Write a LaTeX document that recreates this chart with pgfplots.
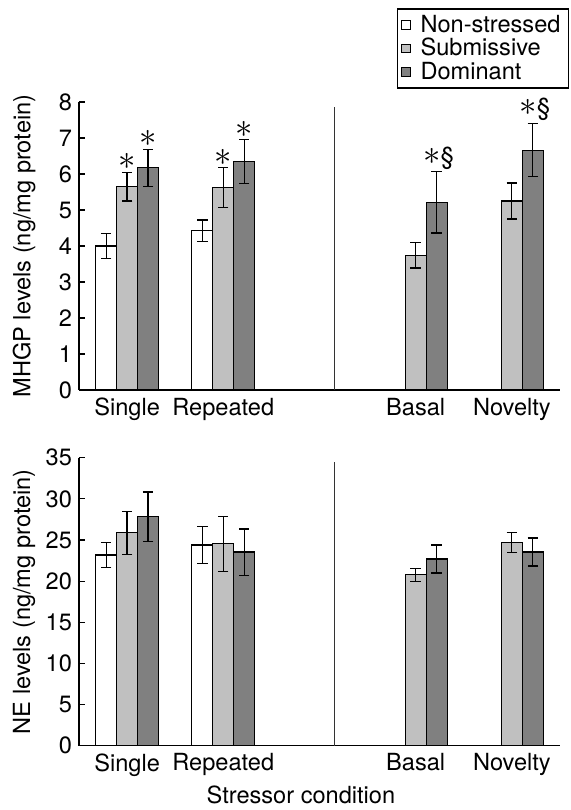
\documentclass[border=0pt]{standalone}
\usepackage{pgfplots}
\pgfplotsset{compat=1.18}
\usepackage{fontspec}
\setmainfont{TeX Gyre Heros}
\definecolor{lightbar}{HTML}{C0C0C0}
\definecolor{darkbar}{HTML}{808080}
\tikzset{
  sigstar/.style={anchor=south, inner sep=0pt, yshift=1.2pt, font=\fontsize{16}{16}\selectfont},
  sigstarS/.style={anchor=south, inner sep=0pt, yshift=1.5pt, font=\fontsize{12}{12}\selectfont},
}
\begin{document}
\begin{tikzpicture}
\useasboundingbox (-39.5pt,-32.15pt) rectangle (245.5pt,372.85pt);
\pgfplotsset{
  base/.style={
    scale only axis, width=240.5pt, height=144pt,
    xmin=-0.5, xmax=4.5, ymin=0,
    axis x line=bottom, axis y line=left,
    axis line style={-, line width=0.6pt},
    xtick={0,1,3,4}, xticklabels={Single,Repeated,Basal,Novelty},
    x tick style={draw=none},
    y tick style={line width=0.6pt, black},
    tick align=inside, major tick length=3pt,
    tick label style={font=\fontsize{11.8}{13}\selectfont},
    label style={font=\fontsize{11.8}{13}\selectfont},
    /pgf/number format/assume math mode=true,
    xticklabel style={yshift=-0.5pt},
    ylabel style={at={(axis description cs:-0.114,0.5)}, anchor=center},
    clip=false,
  },
  bars/.style={ybar, bar width=0.218, bar shift=0, draw=black, line width=0.6pt,
    legend image code/.code={\draw[##1, line width=0.5pt] (0pt,-2.2pt) rectangle (4.4pt,2.2pt); \path (7pt,0pt);},
    error bars/y dir=both, error bars/y explicit,
    error bars/error bar style={line width=0.6pt, black},
    error bars/error mark options={rotate=90, mark size=2.6pt, line width=0.6pt, black}},
}
% Top panel: MHGP
\begin{axis}[base, at={(0pt,177.85pt)}, anchor=south west,
  ymax=8, ytick={0,1,...,8},
  ylabel={MHGP levels (ng/mg protein)},
  legend style={at={(1.019,1.325)}, anchor=north east, draw=black, line width=0.6pt,
    font=\fontsize{11.8}{13}\selectfont, inner xsep=2pt, inner ysep=1pt, row sep=-2.5pt},
  legend cell align=left,
]
\addplot[bars, fill=white] coordinates {
  (-0.218,4.00) +- (0,0.35)
  (0.782,4.42) +- (0,0.30)
};
\addlegendentry{Non-stressed}
\addplot[bars, fill=lightbar] coordinates {
  (0,5.65) +- (0,0.40)
  (1,5.62) +- (0,0.55)
  (3,3.74) +- (0,0.35)
  (4,5.25) +- (0,0.50)
};
\addlegendentry{Submissive}
\addplot[bars, fill=darkbar] coordinates {
  (0.218,6.17) +- (0,0.52)
  (1.218,6.34) +- (0,0.61)
  (3.218,5.21) +- (0,0.85)
  (4.218,6.66) +- (0,0.74)
};
\addlegendentry{Dominant}
\draw[line width=0.6pt, black!80] (axis cs:2.16,0) -- (axis cs:2.16,7.85);
\node[sigstar] at (axis cs:0,6.05) {$\ast$};
\node[sigstar] at (axis cs:0.218,6.69) {$\ast$};
\node[sigstar] at (axis cs:1,6.17) {$\ast$};
\node[sigstar] at (axis cs:1.218,6.95) {$\ast$};
\node[sigstarS] at (axis cs:3.24,6.02) {{\fontsize{16}{12}\selectfont$\ast$}\S};
\node[sigstarS] at (axis cs:4.24,7.40) {{\fontsize{16}{12}\selectfont$\ast$}\S};
\end{axis}
% Bottom panel: NE
\begin{axis}[base, at={(0pt,0pt)}, anchor=south west,
  ymax=35, ytick={0,5,...,35},
  ylabel={NE levels (ng/mg protein)},
  xlabel={Stressor condition},
  xlabel style={at={(axis description cs:0.4615,-0.172)}, anchor=center},
]
\addplot[bars, fill=white] coordinates {
  (-0.218,23.17) +- (0,1.50)
  (0.782,24.38) +- (0,2.25)
};
\addplot[bars, fill=lightbar] coordinates {
  (0,25.88) +- (0,2.60)
  (1,24.54) +- (0,3.35)
  (3,20.78) +- (0,0.80)
  (4,24.71) +- (0,1.20)
};
\addplot[bars, fill=darkbar] coordinates {
  (0.218,27.82) +- (0,3.00)
  (1.218,23.53) +- (0,2.80)
  (3.218,22.68) +- (0,1.70)
  (4.218,23.53) +- (0,1.70)
};
\draw[line width=0.6pt, black!80] (axis cs:2.16,0) -- (axis cs:2.16,34.5);
\end{axis}
\end{tikzpicture}
\end{document}
